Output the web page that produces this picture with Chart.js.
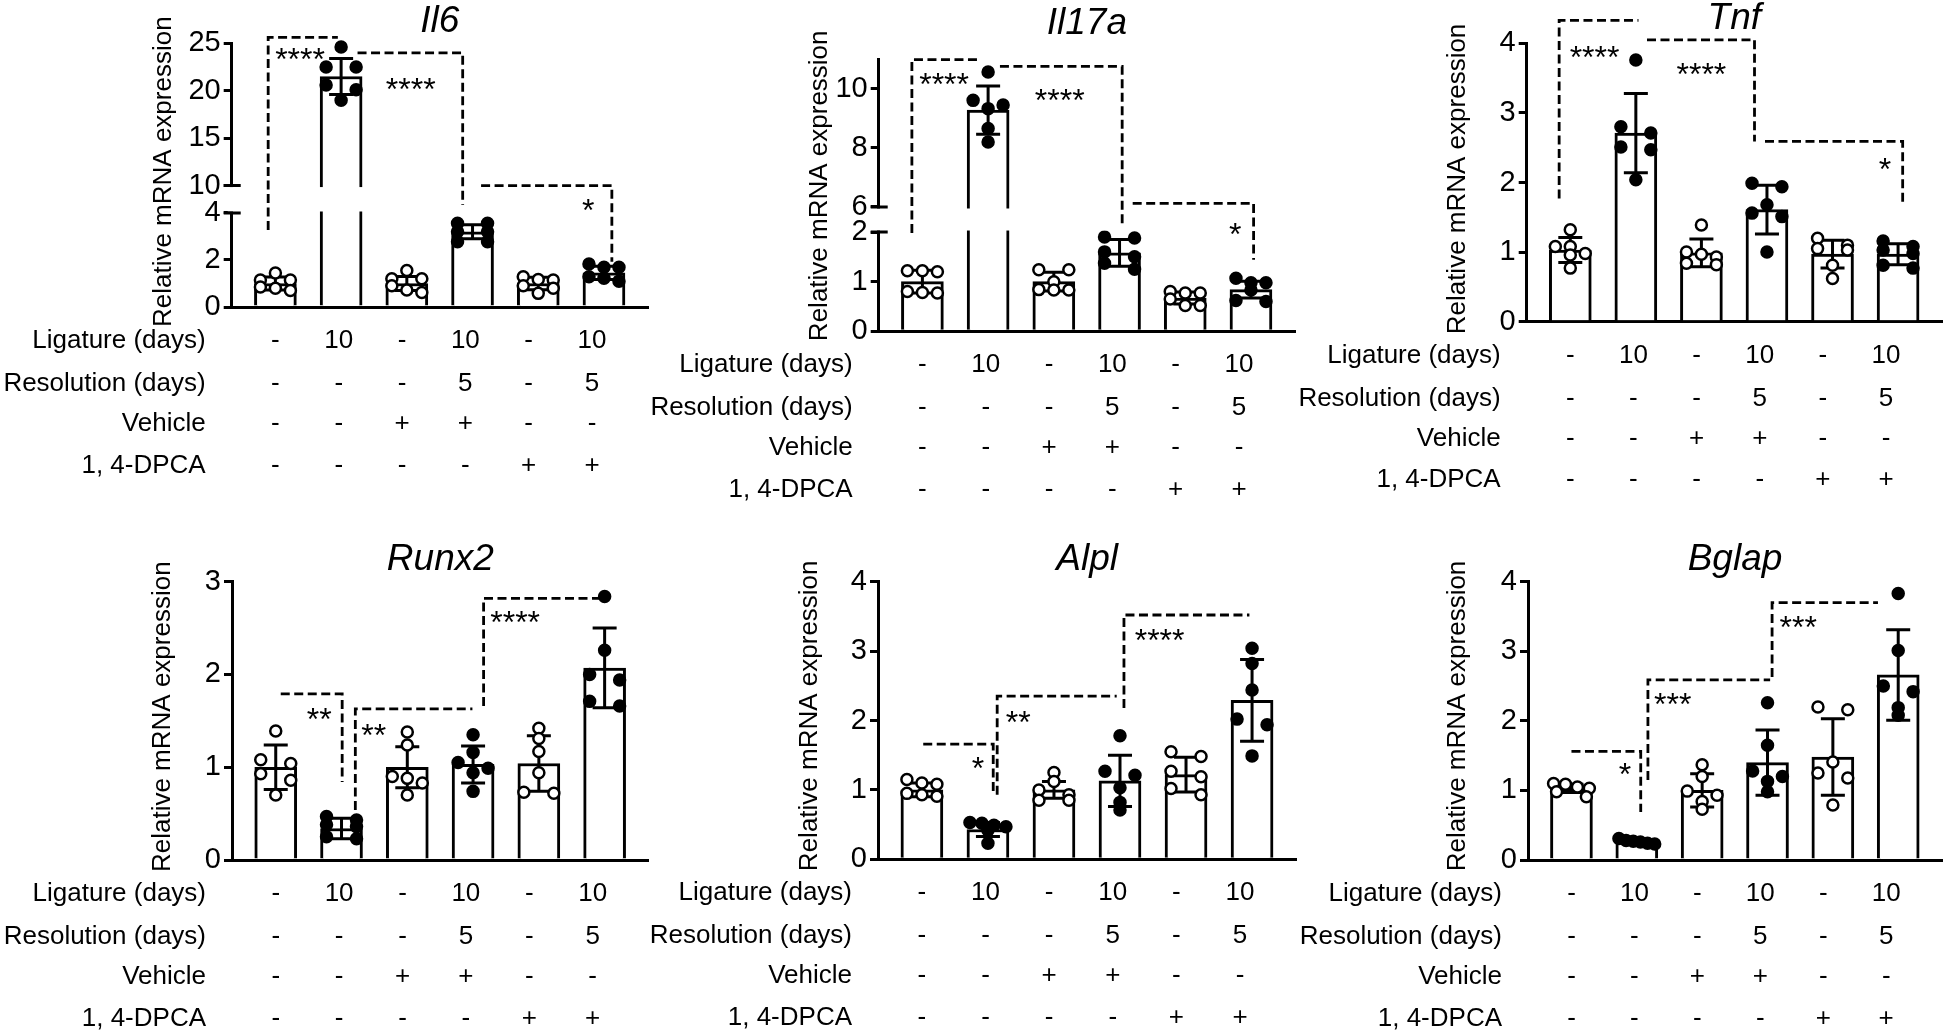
<!DOCTYPE html>
<html lang="en">
<head>
<meta charset="UTF-8">
<title>Relative mRNA expression</title>
<script src="https://cdn.jsdelivr.net/npm/chart.js"></script>
<style>
  html, body { margin: 0; background: #fff; overflow: hidden; }
  #wrap { position: relative; width: 1950px; height: 1035px; }
  canvas { position: absolute; left: 0; top: 0; }
</style>
</head>
<body>
<div id="wrap">
  <canvas id="il6" width="1950" height="1035"></canvas>
  <canvas id="il17a" width="1950" height="1035"></canvas>
  <canvas id="tnf" width="1950" height="1035"></canvas>
  <canvas id="runx2" width="1950" height="1035"></canvas>
  <canvas id="alpl" width="1950" height="1035"></canvas>
  <canvas id="bglap" width="1950" height="1035"></canvas>
</div>
<script>
const FONT = '"Liberation Sans", Arial, Helvetica, sans-serif';

// treatment table (same six groups in every panel)
const rowLabels  = ['Ligature (days)', 'Resolution (days)', 'Vehicle', '1, 4-DPCA'];
const ligature   = ['-', '10', '-', '10', '-', '10'];
const resolution = ['-', '-', '-', '5', '-', '5'];
const vehicle    = ['-', '-', '+', '+', '-', '-'];
const dpca       = ['-', '-', '-', '-', '+', '+'];
const tableRows  = [ligature, resolution, vehicle, dpca];

// Il6
const il6Mean = [1.0, 21.5, 1.0, 3.2, 1.0, 1.45];
const il6Sd   = [0.28, 1.9, 0.3, 0.3, 0.27, 0.28];
const il6Points = [
  [1.45, 1.15, 1.15, 0.8, 0.85, 0.7],
  [24.6, 22.5, 22.5, 20.6, 20.1, 19.0],
  [1.55, 1.2, 1.2, 0.72, 0.9, 0.62],
  [3.56, 3.56, 3.2, 3.2, 2.78, 2.78],
  [1.29, 1.15, 1.17, 0.58, 0.8, 0.9],
  [1.69, 1.69, 1.83, 1.1, 1.22, 1.29]
];
const il6Ticks = [0, 2, 4, 10, 15, 20, 25];

// Il17a
const il17aMean = [1.0, 9.28, 1.0, 1.58, 0.67, 0.84];
const il17aSd   = [0.23, 0.82, 0.19, 0.27, 0.12, 0.17];
const il17aPoints = [
  [1.22, 1.22, 1.2, 0.78, 0.77, 0.8],
  [10.57, 9.61, 9.45, 9.33, 8.66, 8.2],
  [1.24, 1.24, 1.0, 0.83, 0.83, 0.84],
  [1.88, 1.9, 1.6, 1.5, 1.37, 1.25],
  [0.77, 0.8, 0.77, 0.65, 0.52, 0.52],
  [0.98, 0.98, 1.07, 0.83, 0.6, 0.62]
];
const il17aTicks = [0, 1, 2, 6, 8, 10];

// Tnf
const tnfMean = [1.03, 2.71, 0.99, 1.61, 0.97, 0.97];
const tnfSd   = [0.18, 0.57, 0.2, 0.35, 0.2, 0.15];
const tnfPoints = [
  [1.32, 1.08, 1.08, 0.96, 0.98, 0.77],
  [3.76, 2.8, 2.71, 2.51, 2.47, 2.04],
  [1.39, 1.0, 0.97, 0.93, 0.84, 0.82],
  [1.99, 1.94, 1.68, 1.56, 1.51, 1.0],
  [1.2, 1.1, 1.05, 1.03, 0.81, 0.62],
  [1.16, 1.03, 1.08, 0.98, 0.77, 0.81]
];
const tnfTicks = [0, 1, 2, 3, 4];

// Runx2
const runx2Mean = [1.0, 0.34, 1.0, 1.03, 1.04, 2.07];
const runx2Sd   = [0.24, 0.11, 0.22, 0.2, 0.3, 0.43];
const runx2Points = [
  [1.39, 1.08, 1.04, 0.93, 0.86, 0.70],
  [0.47, 0.43, 0.38, 0.36, 0.25, 0.23],
  [1.38, 1.24, 0.9, 0.88, 0.83, 0.70],
  [1.35, 1.16, 1.05, 0.99, 0.94, 0.74],
  [1.42, 1.31, 1.17, 0.94, 0.72, 0.73],
  [2.84, 2.26, 1.94, 2.0, 1.66, 1.71]
];
const runx2Ticks = [0, 1, 2, 3];

// Alpl
const alplMean = [1.0, 0.43, 1.0, 1.13, 1.22, 2.29];
const alplSd   = [0.1, 0.1, 0.12, 0.37, 0.25, 0.59];
const alplPoints = [
  [1.15, 1.1, 1.08, 0.93, 0.95, 0.91],
  [0.53, 0.52, 0.49, 0.42, 0.47, 0.23],
  [1.25, 1.12, 1.0, 0.93, 0.85, 0.85],
  [1.78, 1.27, 1.21, 1.03, 0.71, 0.82],
  [1.48, 1.55, 1.19, 1.27, 0.93, 1.02],
  [3.04, 2.82, 2.44, 2.02, 1.94, 1.49]
];
const alplTicks = [0, 1, 2, 3, 4];

// Bglap
const bglapMean = [1.03, 0.265, 1.0, 1.4, 1.48, 2.66];
const bglapSd   = [0.06, 0.03, 0.24, 0.47, 0.55, 0.65];
const bglapPoints = [
  [0.98, 1.09, 1.05, 1.03, 1.1, 0.91],
  [0.28, 0.31, 0.27, 0.26, 0.24, 0.23],
  [1.37, 1.2, 0.99, 0.93, 0.84, 0.73],
  [2.26, 1.65, 1.28, 1.2, 1.13, 0.98],
  [2.16, 2.2, 1.41, 1.25, 1.18, 0.79],
  [3.83, 3.01, 2.42, 2.5, 2.08, 2.19]
];
const bglapTicks = [0, 1, 2, 3, 4];

// significance brackets, in data units (group index, value)
const il6Sig = [
  { path: [[-0.11, 3.28], [-0.11, 25.63], [0.95, 25.63]], text: '****', at: [0.375, 24.1] },
  { path: [[1.25, 24.0], [2.85, 24.0], [2.85, 5.75]], text: '****', at: [2.06, 20.95] },
  { path: [[3.13, 10], [5.12, 10], [5.12, 1.93]], text: '*', at: [4.76, 6.18] }
];
const il17aSig = [
  { path: [[-0.16, 1.98], [-0.16, 10.99], [0.87, 10.99]], text: '****', at: [0.33, 10.4] },
  { path: [[1.18, 10.76], [3.04, 10.76], [3.04, 2.85]], text: '****', at: [2.09, 9.87] },
  { path: [[3.2, 6.125], [5.04, 6.125], [5.04, 1.44]], text: '*', at: [4.76, 2.85] }
];
const tnfSig = [
  { path: [[-0.17, 1.77], [-0.17, 4.33], [1.04, 4.33]], text: '****', at: [0.37, 3.9] },
  { path: [[1.17, 4.05], [2.81, 4.05], [2.81, 2.59]], text: '****', at: [2.0, 3.66] },
  { path: [[2.97, 2.59], [5.07, 2.59], [5.07, 1.70]], text: '*', at: [4.8, 2.3] }
];
const runx2Sig = [
  { path: [[0.076, 1.79], [1.01, 1.79], [1.01, 0.84]], text: '**', at: [0.66, 1.6] },
  { path: [[1.21, 0.54], [1.21, 1.63], [2.99, 1.63]], text: '**', at: [1.49, 1.42] },
  { path: [[3.16, 1.66], [3.16, 2.82], [4.94, 2.82]], text: '****', at: [3.64, 2.64] }
];
const alplSig = [
  { path: [[0.02, 1.66], [1.08, 1.66], [1.08, 0.93]], text: '*', at: [0.85, 1.41] },
  { path: [[1.14, 0.93], [1.14, 2.35], [2.95, 2.35]], text: '**', at: [1.46, 2.08] },
  { path: [[3.06, 2.18], [3.06, 3.52], [4.96, 3.52]], text: '****', at: [3.6, 3.26] }
];
const bglapSig = [
  { path: [[0.0, 1.56], [1.06, 1.56], [1.06, 0.69]], text: '*', at: [0.82, 1.34] },
  { path: [[1.17, 1.15], [1.17, 2.59], [3.04, 2.59]], text: '***', at: [1.55, 2.34] },
  { path: [[3.07, 2.63], [3.07, 3.7], [4.69, 3.7]], text: '***', at: [3.47, 3.45] }
];

const panels = [
  { id: 'il6', title: 'Il6', mean: il6Mean, sd: il6Sd, points: il6Points, ticks: il6Ticks, max: 25, sig: il6Sig,
    brk: { from: 4, to: 10, low: 0.3565, gap: 0.104 },
    box: { left: 231.7, right: 648, top: 43.3, bottom: 307 }, titleY: 21.7, yTitle: [163.8, 171.7] },
  { id: 'il17a', title: 'Il17a', mean: il17aMean, sd: il17aSd, points: il17aPoints, ticks: il17aTicks, max: 11, sig: il17aSig,
    brk: { from: 2, to: 6, low: 0.365, gap: 0.092 },
    box: { left: 878.7, right: 1295, top: 59.3, bottom: 331.3 }, titleY: 23.3, yTitle: [820, 185.8] },
  { id: 'tnf', title: 'Tnf', mean: tnfMean, sd: tnfSd, points: tnfPoints, ticks: tnfTicks, max: 4, sig: tnfSig,
    box: { left: 1526.7, right: 1943.3, top: 43.3, bottom: 321.7 }, titleY: 18.3, yTitle: [1457.5, 179] },
  { id: 'runx2', title: 'Runx2', mean: runx2Mean, sd: runx2Sd, points: runx2Points, ticks: runx2Ticks, max: 3, sig: runx2Sig,
    box: { left: 232, right: 648.7, top: 581.7, bottom: 860 }, titleY: 560, yTitle: [163, 716.7] },
  { id: 'alpl', title: 'Alpl', mean: alplMean, sd: alplSd, points: alplPoints, ticks: alplTicks, max: 4, sig: alplSig,
    box: { left: 878, right: 1296.3, top: 581.7, bottom: 859.3 }, titleY: 560, yTitle: [809.6, 715.8] },
  { id: 'bglap', title: 'Bglap', mean: bglapMean, sd: bglapSd, points: bglapPoints, ticks: bglapTicks, max: 4, sig: bglapSig,
    box: { left: 1528, right: 1944.7, top: 581.7, bottom: 860 }, titleY: 560, yTitle: [1457.5, 716] }
];
const rowOffsets = [34, 77, 117, 158.5];
const BREAKS = {};
panels.forEach(p => { if (p.brk) BREAKS[p.id] = p.brk; });

// linear scale with an axis break: lower part, a gap, upper part
const LinearScale = Chart.LinearScale || Chart.registry.getScale('linear');
class BrokenScale extends LinearScale {
  getPixelForValue(value) {
    const b = BREAKS[this.chart.canvas.id];
    if (!b) return super.getPixelForValue(value);
    const h = this.bottom - this.top;
    const lowH = h * b.low, gapH = h * b.gap, upH = h - lowH - gapH;
    let d;
    if (value <= b.from) d = (value - this.min) / (b.from - this.min) * lowH;
    else if (value < b.to) d = lowH + (value - b.from) / (b.to - b.from) * gapH;
    else d = lowH + gapH + (value - b.to) / (this.max - b.to) * upH;
    return this.bottom - d;
  }
  getValueForPixel(pixel) {
    const b = BREAKS[this.chart.canvas.id];
    if (!b) return super.getValueForPixel(pixel);
    const h = this.bottom - this.top;
    const lowH = h * b.low, gapH = h * b.gap, upH = h - lowH - gapH;
    const d = this.bottom - pixel;
    if (d <= lowH) return this.min + d / lowH * (b.from - this.min);
    if (d < lowH + gapH) return b.from + (d - lowH) / gapH * (b.to - b.from);
    return b.to + (d - lowH - gapH) / upH * (this.max - b.to);
  }
}
BrokenScale.id = 'broken';
BrokenScale.defaults = LinearScale.defaults;
Chart.register(BrokenScale);

// spread points of one group sideways, row by row
function swarm(chart, p) {
  const x = chart.scales.x, y = chart.scales.y;
  const unit = x.getPixelForValue(1) - x.getPixelForValue(0);
  const out = [];
  p.points.forEach((vals, g) => {
    const items = vals.map(v => ({ v, py: y.getPixelForValue(v) })).sort((a, b) => a.py - b.py);
    let k = 0;
    while (k < items.length) {
      let n = 1;
      while (k + n < items.length && items[k + n].py - items[k].py < 7) n++;
      const s = n === 1 ? 0 : n === 2 ? 30 : Math.min(15, 36 / (n - 1));
      for (let j = 0; j < n; j++) {
        out.push({ x: g + (j - (n - 1) / 2) * s / unit, y: items[k + j].v, g });
      }
      k += n;
    }
  });
  return out;
}

function panelPlugin(p) {
  return {
    id: 'panel',
    afterDatasetDraw(chart, args) {
      if (args.index !== 0) return;
      const { ctx, scales: { x, y } } = chart;
      ctx.save();
      ctx.strokeStyle = '#000';
      ctx.lineWidth = 3;
      p.mean.forEach((m, i) => {
        const cx = x.getPixelForValue(i);
        const t = y.getPixelForValue(m + p.sd[i]);
        const b = y.getPixelForValue(m - p.sd[i]);
        ctx.beginPath();
        ctx.moveTo(cx, t); ctx.lineTo(cx, b);
        ctx.moveTo(cx - 12, t); ctx.lineTo(cx + 12, t);
        ctx.moveTo(cx - 12, b); ctx.lineTo(cx + 12, b);
        ctx.stroke();
      });
      ctx.restore();
    },
    afterDatasetsDraw(chart) {
      if (!p.brk) return;
      const { ctx, chartArea: a, scales: { y } } = chart;
      const y1 = y.getPixelForValue(p.brk.to);
      const y2 = y.getPixelForValue(p.brk.from);
      ctx.save();
      ctx.fillStyle = '#fff';
      ctx.fillRect(a.left - 4, y1 + 1.5, a.right - a.left + 8, y2 - y1 - 3);
      ctx.strokeStyle = '#000';
      ctx.lineWidth = 3;
      ctx.beginPath();
      [y1, y2].forEach(yy => { ctx.moveTo(a.left - 8, yy); ctx.lineTo(a.left + 9, yy); });
      ctx.stroke();
      ctx.restore();
    },
    afterDraw(chart) {
      const { ctx, chartArea: a, scales: { x, y } } = chart;
      ctx.save();
      ctx.strokeStyle = '#000';
      ctx.lineWidth = 2.8;
      ctx.setLineDash([9, 4.5]);
      p.sig.forEach(s => {
        ctx.beginPath();
        s.path.forEach(([vx, vy], k) => {
          const px = x.getPixelForValue(vx), py = y.getPixelForValue(vy);
          if (k) ctx.lineTo(px, py); else ctx.moveTo(px, py);
        });
        ctx.stroke();
      });
      ctx.setLineDash([]);
      ctx.fillStyle = '#000';
      ctx.textAlign = 'center';
      ctx.textBaseline = 'alphabetic';
      ctx.font = '32px ' + FONT;
      p.sig.forEach(s => {
        ctx.fillText(s.text, x.getPixelForValue(s.at[0]), y.getPixelForValue(s.at[1]) + 18);
      });

      ctx.textBaseline = 'middle';
      ctx.font = 'italic 37px ' + FONT;
      ctx.fillText(p.title, (a.left + a.right) / 2, p.titleY);

      ctx.save();
      ctx.translate(p.yTitle[0], p.yTitle[1]);
      ctx.rotate(-Math.PI / 2);
      ctx.font = '26px ' + FONT;
      ctx.fillText('Relative mRNA expression', 0, 0);
      ctx.restore();

      ctx.font = '26px ' + FONT;
      tableRows.forEach((row, r) => {
        const ty = a.bottom + rowOffsets[r];
        ctx.textAlign = 'right';
        ctx.fillText(rowLabels[r], a.left - 26, ty);
        ctx.textAlign = 'center';
        row.forEach((t, i) => ctx.fillText(t, x.getPixelForValue(i) - 2.4 * i, ty));
      });
      ctx.restore();
    }
  };
}

panels.forEach(p => {
  const b = p.box;
  const chart = new Chart(document.getElementById(p.id), {
    type: 'bar',
    data: {
      datasets: [
        {
          type: 'bar',
          data: p.mean.map((m, i) => ({ x: i, y: m })),
          backgroundColor: '#fff',
          borderColor: '#000',
          borderWidth: 3,
          barThickness: 42,
          order: 2
        },
        {
          type: 'scatter',
          data: [],
          pointRadius: 5.5,
          pointBorderWidth: 2.5,
          pointBorderColor: '#000',
          pointBackgroundColor: c => (c.raw && c.raw.g % 2) ? '#000' : '#fff',
          clip: false,
          order: 1
        }
      ]
    },
    options: {
      responsive: false,
      animation: false,
      devicePixelRatio: 1,
      events: [],
      layout: { padding: { left: b.left - 90, right: 1950 - b.right, top: b.top, bottom: 1035 - b.bottom } },
      plugins: { legend: { display: false }, tooltip: { enabled: false } },
      scales: {
        x: {
          type: 'linear', min: -0.665, max: 5.67, offset: false,
          ticks: { display: false },
          grid: { display: false },
          border: { display: true, width: 3, color: '#000' },
          afterFit: s => { s.height = 0; }
        },
        y: {
          type: p.brk ? 'broken' : 'linear', min: 0, max: p.max,
          afterBuildTicks: s => { s.ticks = p.ticks.map(v => ({ value: v })); },
          afterFit: s => { s.width = 90; },
          border: { display: true, width: 3, color: '#000' },
          grid: { drawOnChartArea: false, drawTicks: true, tickLength: 8, tickWidth: 3, tickColor: '#000', color: '#000', lineWidth: 3 },
          ticks: { color: '#000', autoSkip: false, padding: 3, font: { family: FONT, size: 29 } }
        }
      }
    },
    plugins: [panelPlugin(p)]
  });
  chart.data.datasets[1].data = swarm(chart, p);
  chart.update('none');
});
</script>
</body>
</html>
